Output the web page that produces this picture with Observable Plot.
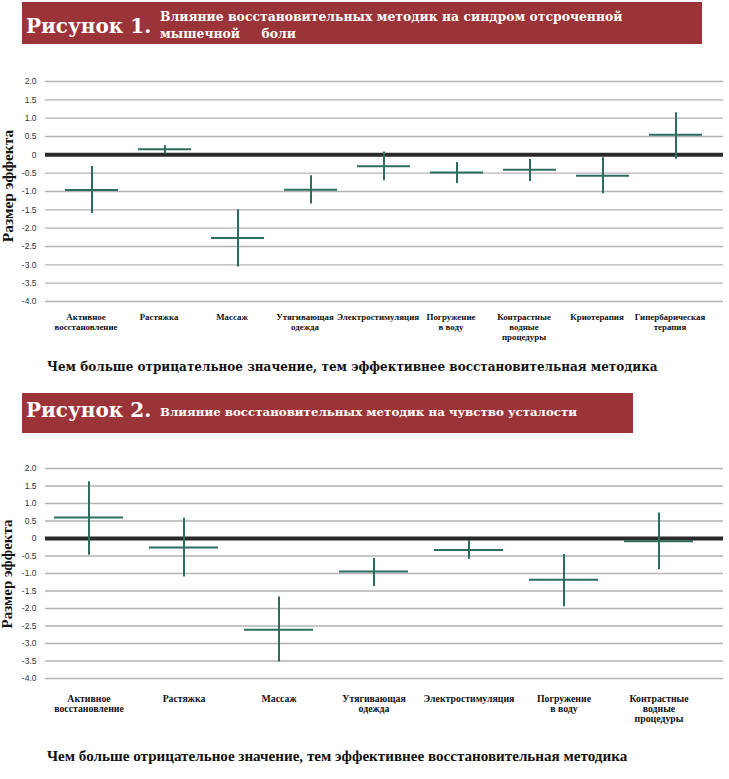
<!DOCTYPE html>
<html>
<head>
<meta charset="utf-8">
<script src="https://cdn.jsdelivr.net/npm/d3@7"></script>
<script src="https://cdn.jsdelivr.net/npm/@observablehq/plot@0.6"></script>
<style>
  html, body { margin: 0; padding: 0; background: #fff; }
  #page { position: relative; width: 729px; height: 779px; overflow: hidden; }
  #deco { position: absolute; left: 0; top: 0; }
  #chart1 { position: absolute; left: 0; top: 50px; }
  #chart2 { position: absolute; left: 0; top: 440px; }
  .pre { white-space: pre; }
</style>
</head>
<body>
<div id="page">
  <svg id="deco" width="729" height="779">
    <rect x="22" y="2" width="680" height="42" fill="#9b3438"></rect>
    <text x="26" y="33" fill="#fff" font-family="DejaVu Serif" font-weight="bold" font-size="20">Рисунок 1.</text>
    <text x="160" y="21" fill="#fff" font-family="DejaVu Serif" font-weight="bold" font-size="12.4">Влияние восстановительных методик на синдром отсроченной</text>
    <text x="160" y="38" fill="#fff" font-family="DejaVu Serif" font-weight="bold" font-size="12.4" class="pre">мышечной     боли</text>
    <text x="47" y="371" fill="#111" font-family="DejaVu Serif" font-weight="bold" font-size="12">Чем больше отрицательное значение, тем эффективнее восстановительная методика</text>
    <rect x="22" y="393" width="611" height="40" fill="#9b3438"></rect>
    <text x="26" y="417" fill="#fff" font-family="DejaVu Serif" font-weight="bold" font-size="20">Рисунок 2.</text>
    <text x="160" y="416" fill="#fff" font-family="DejaVu Serif" font-weight="bold" font-size="11.8">Влияние восстановительных методик на чувство усталости</text>
    <text x="47" y="761" fill="#111" font-family="Liberation Serif" font-weight="bold" font-size="15.1">Чем больше отрицательное значение, тем эффективнее восстановительная методика</text>
    <text transform="translate(9,186) rotate(-90)" text-anchor="middle" dominant-baseline="middle" fill="#111" font-family="Liberation Serif" font-weight="bold" font-size="15.5">Размер эффекта</text>
    <text transform="translate(9,574) rotate(-90)" text-anchor="middle" dominant-baseline="middle" fill="#111" font-family="Liberation Serif" font-weight="bold" font-size="15">Размер эффекта</text>
  </svg>
  <div id="chart1"></div>
  <div id="chart2"></div>
</div>
<script>
// ---- data: figure 1 (DOMS) ----
const categories1 = [
  "Активное\nвосстановление", "Растяжка", "Массаж", "Утягивающая\nодежда",
  "Электростимуляция", "Погружение\nв воду", "Контрастные\nводные\nпроцедуры",
  "Криотерапия", "Гипербарическая\nтерапия"
];
const mean1 = [-0.96, 0.15, -2.27, -0.95, -0.31, -0.48, -0.41, -0.57, 0.55];
const low1  = [-1.60, 0.02, -3.06, -1.34, -0.71, -0.78, -0.73, -1.06, -0.12];
const high1 = [-0.32, 0.25, -1.50, -0.57, 0.08, -0.21, -0.13, -0.08, 1.15];

// ---- data: figure 2 (fatigue) ----
const categories2 = [
  "Активное\nвосстановление", "Растяжка", "Массаж", "Утягивающая\nодежда",
  "Электростимуляция", "Погружение\nв воду", "Контрастные\nводные\nпроцедуры"
];
const mean2 = [0.60, -0.26, -2.61, -0.94, -0.33, -1.18, -0.08];
const low2  = [-0.48, -1.10, -3.53, -1.37, -0.59, -1.95, -0.89];
const high2 = [1.62, 0.58, -1.67, -0.57, -0.06, -0.46, 0.73];

// ---- axis ticks ----
const yTicks = [2, 1.5, 1, 0.5, 0, -0.5, -1, -1.5, -2, -2.5, -3, -3.5, -4];
const yTickLabels = ["2.0", "1.5", "1.0", "0.5", "0", "-0.5", "-1.0", "-1.5", "-2.0", "-2.5", "-3.0", "-3.5", "-4.0"];

const rows1 = categories1.map((name, i) => ({name, mean: mean1[i], lo: low1[i], hi: high1[i]}));
const rows2 = categories2.map((name, i) => ({name, mean: mean2[i], lo: low2[i], hi: high2[i]}));
const yFmt = (d) => yTickLabels[yTicks.indexOf(d)];

const crossColor = "#2f6c60";

function chart(rows, categories, opts) {
  return Plot.plot({
    width: 729,
    height: 300,
    marginTop: opts.marginTop,
    marginBottom: opts.marginBottom,
    marginLeft: 45,
    marginRight: 6,
    style: {background: "transparent", fontFamily: "Liberation Sans", overflow: "visible"},
    x: {type: "band", domain: categories, paddingInner: opts.pi, paddingOuter: opts.po,
        insetLeft: opts.il, insetRight: opts.ir, label: null},
    y: {domain: [-4, 2], label: null},
    marks: [
      Plot.ruleY(yTicks, {stroke: "#b3b3b3", strokeWidth: 1.4}),
      Plot.ruleY([0], {stroke: "#2a2a2a", strokeWidth: 4}),
      Plot.axisY(yTicks, {tickSize: 0, tickPadding: 9, tickFormat: yFmt, fontSize: 8.5,
        fill: "#333", label: null}),
      Plot.axisX({tickSize: 0, tickPadding: opts.xPad, fontFamily: opts.xFont, fontWeight: "bold",
        fontSize: opts.xSize, lineHeight: opts.lh, dx: opts.dx, fill: "#111", label: null}),
      Plot.ruleX(rows, {x: "name", y1: "lo", y2: "hi", stroke: crossColor, strokeWidth: 2}),
      Plot.tickY(rows, {x: "name", y: "mean", stroke: crossColor, strokeWidth: 2})
    ]
  });
}

document.getElementById("chart1").append(chart(rows1, categories1, {
  marginTop: 31, marginBottom: 49, pi: 0.28, po: 0.2, il: 3, ir: 4,
  xPad: 11, xFont: "Liberation Serif", xSize: 8.9, lh: 1.12, dx: -6
}));
document.getElementById("chart2").append(chart(rows2, categories2, {
  marginTop: 28, marginBottom: 62, pi: 0.27, po: 0.05, il: 2, ir: 22,
  xPad: 16, xFont: "Liberation Serif", xSize: 9.8, lh: 1.05, dx: 0
}));
</script>
</body>
</html>
